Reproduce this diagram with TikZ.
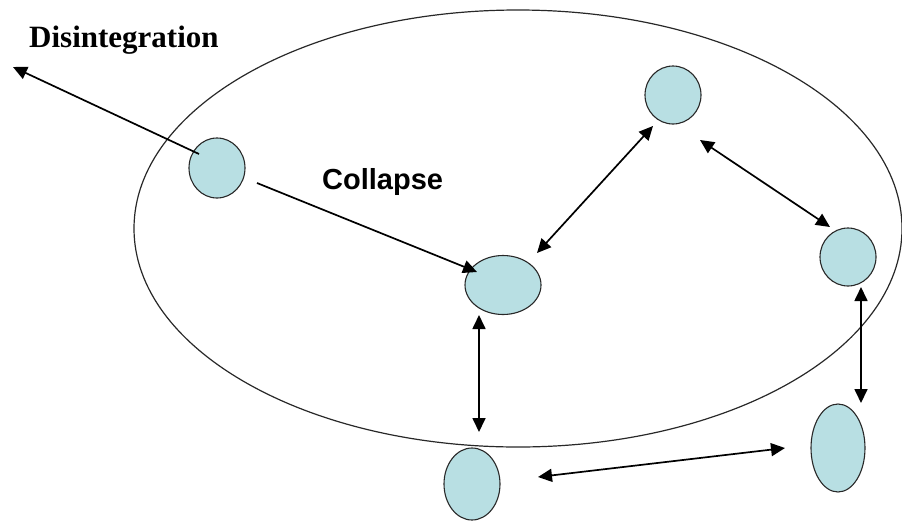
\documentclass[tikz,border=0pt]{standalone}
\usepackage{fontspec}
\setmainfont{Liberation Serif}
\newfontfamily\arialfont{Liberation Sans}
\usetikzlibrary{shapes.geometric,arrows.meta,calc}
\definecolor{blob}{RGB}{184,223,227}
\definecolor{edge}{RGB}{40,40,40}
\begin{document}
\begin{tikzpicture}[x=1pt,y=-1pt,
  blobnode/.style={ellipse,draw=edge,line width=1.1pt,fill=blob,inner sep=0pt},
  link/.style={line width=1.7pt,-{Triangle[length=14pt,width=13pt]}},
  biline/.style={line width=1.7pt,{Triangle[length=14pt,width=13pt]}-{Triangle[length=14pt,width=13pt]}}]
\useasboundingbox (0,0) rectangle (902,520);
\node[ellipse,draw=edge,line width=1.2pt,minimum width=768pt,minimum height=437pt,inner sep=0pt] (big) at (518,228.5) {};
\node[blobnode,minimum width=56pt,minimum height=60pt] (A) at (217,168) {};
\node[blobnode,minimum width=56pt,minimum height=58pt] (B) at (673,95) {};
\node[blobnode,minimum width=76pt,minimum height=59pt] (C) at (503,285) {};
\node[blobnode,minimum width=56pt,minimum height=58pt] (D) at (848,257) {};
\node[blobnode,minimum width=56pt,minimum height=72pt] (E) at (472,484) {};
\node[blobnode,minimum width=54pt,minimum height=88pt] (F) at (838,448) {};
\coordinate (dis) at (13,67);
\node[anchor=base west,inner sep=0pt,font=\fontsize{31}{36}\selectfont\bfseries] (tdis) at (29,47) {Disintegration};
\node[anchor=base west,inner sep=0pt,font=\arialfont\fontsize{29}{34}\selectfont\bfseries] (tcol) at (322,189) {Collapse};
\draw[link] ($(A.center)+(-18,-14)$) -- (dis);
\draw[link] ($(A.center)+(40,15)$) -- ($(C.center)+(-26,-13)$);
\draw[biline] ($(C.center)+(34,-32)$) -- ($(B.center)+(-20,31)$);
\draw[biline] ($(B.center)+(27,45)$) -- ($(D.center)+(-18,-30)$);
\draw[biline] ($(D.center)+(13,30)$) -- ($(F.center)+(23,-45)$);
\draw[biline] ($(C.center)+(-24,30)$) -- ($(E.center)+(7,-52)$);
\draw[biline] ($(E.center)+(66,-7)$) -- ($(F.center)+(-53,0)$);
\end{tikzpicture}
\end{document}
